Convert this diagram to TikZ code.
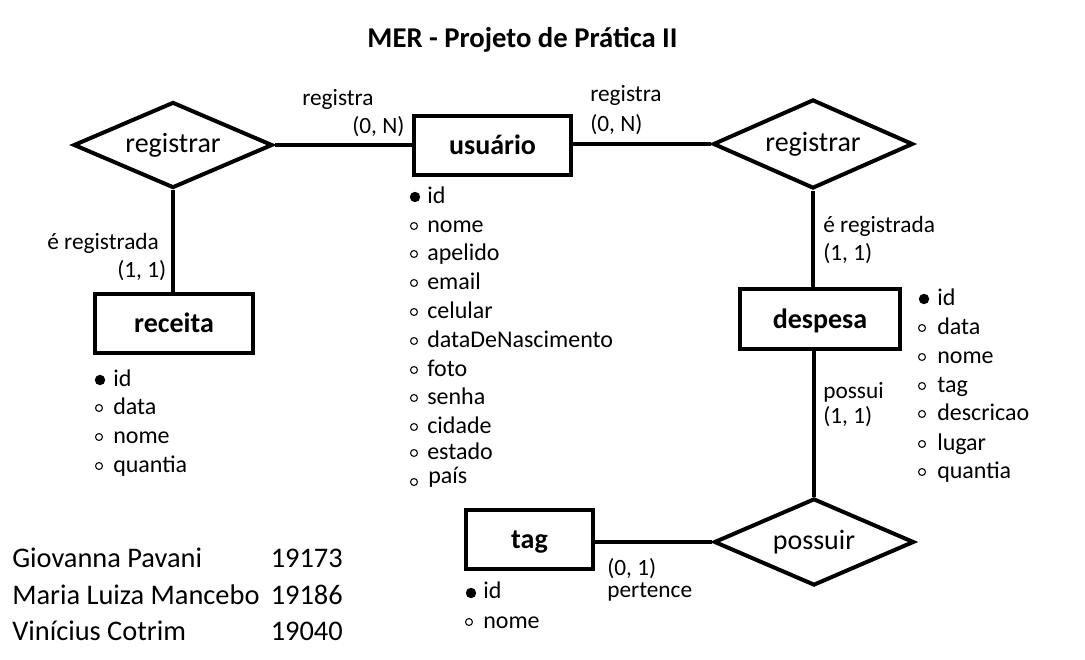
\documentclass[tikz,border=0pt]{standalone}
\usepackage{fontspec}
\setmainfont{Carlito}
\usetikzlibrary{shapes.geometric}
\begin{document}
\begin{tikzpicture}[x=0.75pt,y=-0.75pt,
 entity/.style={draw, line width=3pt, inner sep=0pt, text height=19pt, text depth=5pt, font=\fontsize{21}{25}\selectfont\bfseries},
 rel/.style={draw, diamond, line width=3pt, inner sep=0pt, aspect=2.3, font=\fontsize{21}{25}\selectfont},
 conn/.style={line width=3pt},
 lbl/.style={font=\fontsize{17.5}{21}\selectfont, inner sep=0pt, anchor=base west},
 attr/.style={font=\fontsize{18}{22}\selectfont, inner sep=0pt, anchor=base west},
 pk/.style={fill=black},
 ak/.style={draw=black, line width=0.8pt},
 names/.style={font=\fontsize{21.3}{25}\selectfont, inner sep=0pt},
]
\useasboundingbox (0,0) rectangle (1085,660);
\newcommand{\pkdot}[1]{\fill[pk] (#1) circle[radius=3.9pt];}
\newcommand{\akdot}[1]{\draw[ak] (#1) circle[radius=2.6pt];}

% title
\node[font=\fontsize{21.5}{26}\selectfont\bfseries, inner sep=0pt, anchor=base] (title) at (522.5,48) {MER - Projeto de Prática II};

% entities
\node[entity, minimum width=117.75pt, minimum height=44.25pt] (usr) at (492.5,145) {usuário};
\node[entity, minimum width=118.5pt, minimum height=44.25pt] (rec) at (174,323.5) {receita};
\node[entity, minimum width=120pt, minimum height=45pt] (desp) at (820,319) {despesa};
\node[entity, minimum width=95.25pt, minimum height=44.25pt] (tag) at (529.5,539.5) {tag};

% relationships
\node[rel, minimum width=149.25pt, minimum height=64.5pt] (r1) at (173,145) {registrar};
\node[rel, minimum width=150pt, minimum height=66.75pt] (r2) at (813,144) {registrar};
\node[rel, minimum width=150pt, minimum height=65.25pt] (r3) at (814,542) {possuir};

% connectors
\draw[conn] (r1.east) -- (r1.east -| usr.west);
\draw[conn] (r1.south) -- (r1.south |- rec.north);
\draw[conn] (usr.east |- r2.west) -- (r2.west);
\draw[conn] (r2.south) -- (r2.south |- desp.north);
\draw[conn] (r3.north |- desp.south) -- (r3.north);
\draw[conn] (tag.east |- r3.west) -- (r3.west);

% cardinality labels
\node[lbl] (l1a) at (302,106) {registra};
\node[lbl] (l1b) at (352,133) {(0, N)};
\node[lbl] (l2a) at (47,249) {é registrada};
\node[lbl] (l2b) at (117,277) {(1, 1)};
\node[lbl] (l3a) at (590,102) {registra};
\node[lbl] (l3b) at (590,132) {(0, N)};
\node[lbl] (l4a) at (823,232) {é registrada};
\node[lbl] (l4b) at (823,260) {(1, 1)};
\node[lbl] (l5a) at (823,398) {possui};
\node[lbl] (l5b) at (823,423) {(1, 1)};
\node[lbl] (l6a) at (607,575) {(0, 1)};
\node[lbl] (l6b) at (607,597) {pertence};

% usuario attributes
\coordinate (ub1) at (415,197); \pkdot{ub1}
\node[attr] (ua1) at (427,203) {id};
\coordinate (ub2) at (414,226); \akdot{ub2}
\node[attr] (ua2) at (427,232) {nome};
\coordinate (ub3) at (414,254); \akdot{ub3}
\node[attr] (ua3) at (427,260) {apelido};
\coordinate (ub4) at (414,283); \akdot{ub4}
\node[attr] (ua4) at (427,289) {email};
\coordinate (ub5) at (414,312); \akdot{ub5}
\node[attr] (ua5) at (427,318) {celular};
\coordinate (ub6) at (414,341); \akdot{ub6}
\node[attr] (ua6) at (427,347) {dataDeNascimento};
\coordinate (ub7) at (414,370); \akdot{ub7}
\node[attr] (ua7) at (427,376) {foto};
\coordinate (ub8) at (414,398); \akdot{ub8}
\node[attr] (ua8) at (427,404) {senha};
\coordinate (ub9) at (414,427); \akdot{ub9}
\node[attr] (ua9) at (427,433) {cidade};
\coordinate (ub10) at (414,453); \akdot{ub10}
\node[attr] (ua10) at (427,459) {estado};
\coordinate (ub11) at (414,482); \akdot{ub11}
\node[attr] (ua11) at (428,483) {país};

% receita attributes
\coordinate (rb1) at (100,380); \pkdot{rb1}
\node[attr] (ra1) at (113,386) {id};
\coordinate (rb2) at (99,408); \akdot{rb2}
\node[attr] (ra2) at (113,414) {data};
\coordinate (rb3) at (99,437); \akdot{rb3}
\node[attr] (ra3) at (113,443) {nome};
\coordinate (rb4) at (99,466); \akdot{rb4}
\node[attr] (ra4) at (113,472) {quantia};

% despesa attributes
\coordinate (db1) at (924,299); \pkdot{db1}
\node[attr] (da1) at (937,305) {id};
\coordinate (db2) at (922,328); \akdot{db2}
\node[attr] (da2) at (937,334) {data};
\coordinate (db3) at (922,357); \akdot{db3}
\node[attr] (da3) at (937,363) {nome};
\coordinate (db4) at (922,386); \akdot{db4}
\node[attr] (da4) at (937,392) {tag};
\coordinate (db5) at (922,414); \akdot{db5}
\node[attr] (da5) at (937,420) {descricao};
\coordinate (db6) at (922,444); \akdot{db6}
\node[attr] (da6) at (937,450) {lugar};
\coordinate (db7) at (922,472); \akdot{db7}
\node[attr] (da7) at (937,478) {quantia};

% tag attributes
\coordinate (tb1) at (471,593); \pkdot{tb1}
\node[attr] (ta1) at (483,598) {id};
\coordinate (tb2) at (469,622); \akdot{tb2}
\node[attr] (ta2) at (483,628) {nome};

% authors
\node[names, anchor=base west] (n1) at (12,567) {Giovanna Pavani};
\node[names, anchor=base east] (m1) at (343,567) {19173};
\node[names, anchor=base west] (n2) at (12,604) {Maria Luiza Mancebo};
\node[names, anchor=base east] (m2) at (343,604) {19186};
\node[names, anchor=base west] (n3) at (12,640) {Vinícius Cotrim};
\node[names, anchor=base east] (m3) at (343,640) {19040};
\end{tikzpicture}
\end{document}
